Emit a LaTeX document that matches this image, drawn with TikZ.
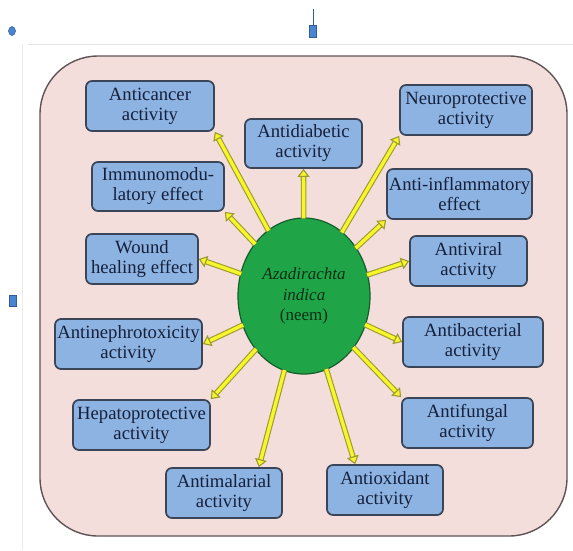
\documentclass[tikz,border=0pt]{standalone}
\usepackage{fontspec}
\setmainfont{Liberation Serif}
\usetikzlibrary{arrows.meta,shapes.geometric,calc}
\definecolor{bgpink}{HTML}{F4DEDB}
\definecolor{bgedge}{HTML}{5E5455}
\definecolor{boxfill}{HTML}{8DB3E2}
\definecolor{boxedge}{HTML}{3A4658}
\definecolor{boxtext}{HTML}{16203A}
\definecolor{neemgreen}{HTML}{1FA447}
\definecolor{neemedge}{HTML}{155E2A}
\definecolor{neemtext}{HTML}{0A2E16}
\definecolor{arrowfill}{HTML}{F6F62A}
\definecolor{arrowedge}{HTML}{9A9A30}
\definecolor{handle}{HTML}{4A84D4}
\tikzset{
  effbox/.style={draw=boxedge, line width=1.7pt, fill=boxfill, rounded corners=6pt,
    align=center, text=boxtext, font=\fontsize{18.7}{20}\selectfont, inner sep=0pt},
  yarrow/.style={draw=arrowedge, line width=1.1pt, double=arrowfill, double distance=3.4pt,
    -{Triangle[length=8pt,width=12pt,fill=arrowfill]}, shorten <=-1pt},
}
\begin{document}
\begin{tikzpicture}[x=1pt,y=-1pt]
\useasboundingbox (0,0) rectangle (573,550);
\fill[white] (0,0) rectangle (573,550);
% faint page frame lines
\draw[black!10, line width=1pt] (28,44) -- (573,44);
\draw[black!8, line width=1pt] (22,44) -- (22,550);
% handles
\draw[handle!70!black, line width=0.8pt] (313,9) -- (313,25);
\filldraw[fill=handle, draw=handle!70!black, line width=0.5pt] (309.5,25) rectangle (316.5,37);
\filldraw[fill=handle, draw=handle!70!black, line width=0.5pt] (12,31) ellipse (3.5pt and 4.5pt);
\filldraw[fill=handle, draw=handle!70!black, line width=0.5pt] (9.5,295.5) rectangle (16.5,306.5);
% background panel
\node[draw=bgedge, line width=1.4pt, fill=bgpink, rounded corners=58pt,
  minimum width=527pt, minimum height=480pt, inner sep=0pt] (panel) at (303.5,296) {};
% center
\node[ellipse, draw=neemedge, line width=1.2pt, fill=neemgreen, minimum width=132pt,
  minimum height=156pt, inner sep=0pt, align=center, text=neemtext,
  font=\fontsize{17}{20.5}\selectfont] (e) at (304,296)
  {\textit{Azadirachta}\\\textit{indica}\\(neem)};
% boxes
\node[effbox, minimum width=128pt, minimum height=50pt] (anticancer) at (150,106) {Anticancer\\activity};
\node[effbox, minimum width=117pt, minimum height=49pt] (antidiab) at (303.5,143.5) {Antidiabetic\\activity};
\node[effbox, minimum width=132pt, minimum height=50pt] (neuro) at (466,110) {Neuroprotective\\activity};
\node[effbox, minimum width=132pt, minimum height=49pt] (immuno) at (158,186.5) {Immunomodu-\\latory effect};
\node[effbox, minimum width=145pt, minimum height=50pt] (antiinfl) at (459.5,194) {Anti-inflammatory\\effect};
\node[effbox, minimum width=112pt, minimum height=50pt] (wound) at (142,259) {Wound\\healing effect};
\node[effbox, minimum width=117pt, minimum height=50pt] (antiviral) at (468.5,261) {Antiviral\\activity};
\node[effbox, minimum width=147pt, minimum height=50pt] (antineph) at (128.5,344) {Antinephrotoxicity\\activity};
\node[effbox, minimum width=140pt, minimum height=50pt] (antibact) at (473,342) {Antibacterial\\activity};
\node[effbox, minimum width=137pt, minimum height=50pt] (hepato) at (141.5,425) {Hepatoprotective\\activity};
\node[effbox, minimum width=131pt, minimum height=50pt] (antifung) at (467.5,423) {Antifungal\\activity};
\node[effbox, minimum width=116pt, minimum height=50pt] (antimal) at (224,493) {Antimalarial\\activity};
\node[effbox, minimum width=116pt, minimum height=50pt] (antiox) at (385,490) {Antioxidant\\activity};
% arrows
\draw[yarrow] (e) -- (anticancer.south east);
\draw[yarrow] (e) -- (antidiab.south);
\draw[yarrow] (e) -- (neuro.south west);
\draw[yarrow] (e) -- (immuno.south east);
\draw[yarrow] (e) -- (antiinfl.south west);
\draw[yarrow] (e) -- (wound.east);
\draw[yarrow] (e) -- (antiviral.west);
\draw[yarrow] (e) -- (antineph.east);
\draw[yarrow] (e) -- (antibact.west);
\draw[yarrow] (e) -- (hepato.north east);
\draw[yarrow] (e) -- (antifung.north west);
\draw[yarrow] (e) -- ([xshift=-24pt]antimal.north east);
\draw[yarrow] (e) -- ([xshift=29pt]antiox.north west);
\end{tikzpicture}
\end{document}
